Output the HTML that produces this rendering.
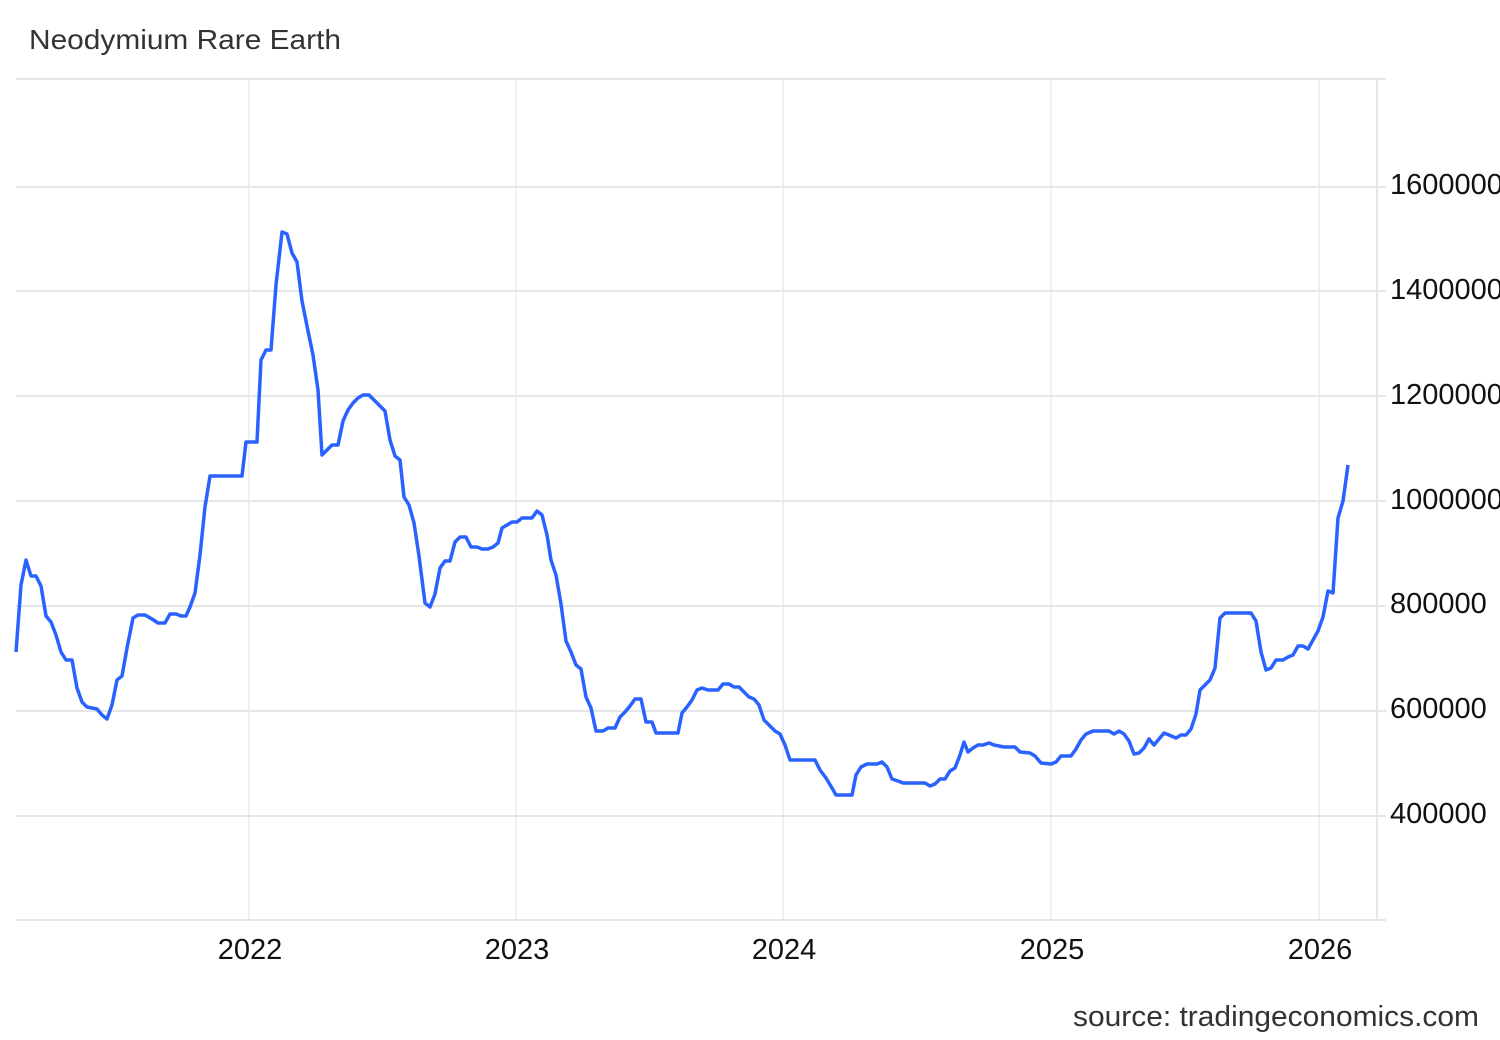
<!DOCTYPE html>
<html><head><meta charset="utf-8"><style>
html,body{margin:0;padding:0;background:#fff;overflow:hidden;}
svg{display:block;font-family:"Liberation Sans",Arial,sans-serif;}
</style></head><body>
<svg width="1500" height="1040" viewBox="0 0 1500 1040" xmlns="http://www.w3.org/2000/svg">
<rect width="1500" height="1040" fill="#fff"/>
<text x="29" y="49" font-size="28" fill="#333" textLength="312" lengthAdjust="spacingAndGlyphs">Neodymium Rare Earth</text>
<g stroke="#eef0f4" stroke-width="2">
<line x1="249" y1="79" x2="249" y2="920"/><line x1="516" y1="79" x2="516" y2="920"/>
<line x1="783" y1="79" x2="783" y2="920"/><line x1="1051" y1="79" x2="1051" y2="920"/>
<line x1="1319" y1="79" x2="1319" y2="920"/>
</g>
<g stroke="#e6e6e6" stroke-width="2">
<line x1="16" y1="79" x2="1386" y2="79"/>
<line x1="16" y1="187" x2="1386" y2="187"/><line x1="16" y1="291" x2="1386" y2="291"/>
<line x1="16" y1="396" x2="1386" y2="396"/><line x1="16" y1="501" x2="1386" y2="501"/>
<line x1="16" y1="606" x2="1386" y2="606"/><line x1="16" y1="711" x2="1386" y2="711"/>
<line x1="16" y1="816" x2="1386" y2="816"/><line x1="16" y1="920" x2="1386" y2="920"/>
<line x1="1377" y1="79" x2="1377" y2="920"/>
</g>
<g font-size="29" fill="#111">
<text x="1390" y="194">1600000</text><text x="1390" y="299">1400000</text>
<text x="1390" y="404">1200000</text><text x="1390" y="509">1000000</text>
<text x="1390" y="613">800000</text><text x="1390" y="718">600000</text>
<text x="1390" y="823">400000</text>
</g>
<g font-size="29" fill="#111" text-anchor="middle">
<text x="250" y="959">2022</text><text x="517" y="959">2023</text>
<text x="784" y="959">2024</text><text x="1052" y="959">2025</text>
<text x="1320" y="959">2026</text>
</g>
<text x="1073" y="1026" font-size="29" fill="#333" textLength="406" lengthAdjust="spacingAndGlyphs">source: tradingeconomics.com</text>
<polyline fill="none" stroke="#2962ff" stroke-width="3.5" stroke-linejoin="round" points="16,652 21,585 26,560 31,576 36,576 41,586 46,616 51,622 56,635 61,652 66,660 72,660 77,688 82,702 87,707 92,708 97,709 102,715 107,719 112,705 117,680 122,676 127,648 133,618 138,615 145,615 152,619 158,623 165,623 170,614 176,614 181,616 186,616 190,607 195,593 200,555 205,507 210,476 242,476 246,442 257,442 261,360 266,350 271,350 276,285 282,232 287,234 292,253 297,262 302,301 307,326 313,355 318,390 322,455 327,450 332,445 338,445 343,421 348,410 353,403 358,398 363,395 369,395 374,400 379,405 385,411 390,440 395,456 400,460 404,497 409,505 414,523 419,556 425,603 430,607 435,594 440,568 445,561 450,561 455,542 460,537 466,537 471,547 477,547 482,549 488,549 493,547 498,543 502,528 507,525 512,522 517,522 522,518 532,518 537,511 542,515 547,535 551,560 556,575 561,604 566,641 571,652 576,665 581,669 586,697 591,708 596,731 603,731 608,728 615,728 620,717 625,712 630,706 635,699 641,699 646,722 652,722 656,733 678,733 682,713 687,707 692,700 697,690 702,688 708,690 718,690 723,684 729,684 734,687 739,687 744,692 749,697 754,699 759,705 764,720 770,726 775,731 780,734 785,745 790,760 815,760 820,770 826,778 832,788 836,795 852,795 856,775 861,767 867,764 877,764 882,762 887,767 892,779 898,781 903,783 925,783 930,786 935,784 940,779 945,779 950,771 955,768 960,755 964,742 968,752 973,748 978,745 983,745 989,743 994,745 999,746 1004,747 1015,747 1020,752 1030,753 1035,756 1041,763 1051,764 1056,762 1061,756 1071,756 1076,749 1081,740 1086,734 1093,731 1109,731 1114,734 1119,731 1124,734 1129,741 1134,754 1139,753 1144,748 1149,739 1154,745 1159,739 1164,733 1169,735 1176,738 1181,735 1186,735 1191,729 1196,714 1200,690 1205,685 1210,680 1215,668 1220,618 1225,613 1251,613 1256,621 1261,652 1266,670 1271,668 1276,660 1283,660 1288,657 1293,655 1298,646 1303,646 1308,649 1313,640 1318,631 1323,617 1328,591 1333,593 1338,518 1343,501 1348,465"/>
</svg>
</body></html>
